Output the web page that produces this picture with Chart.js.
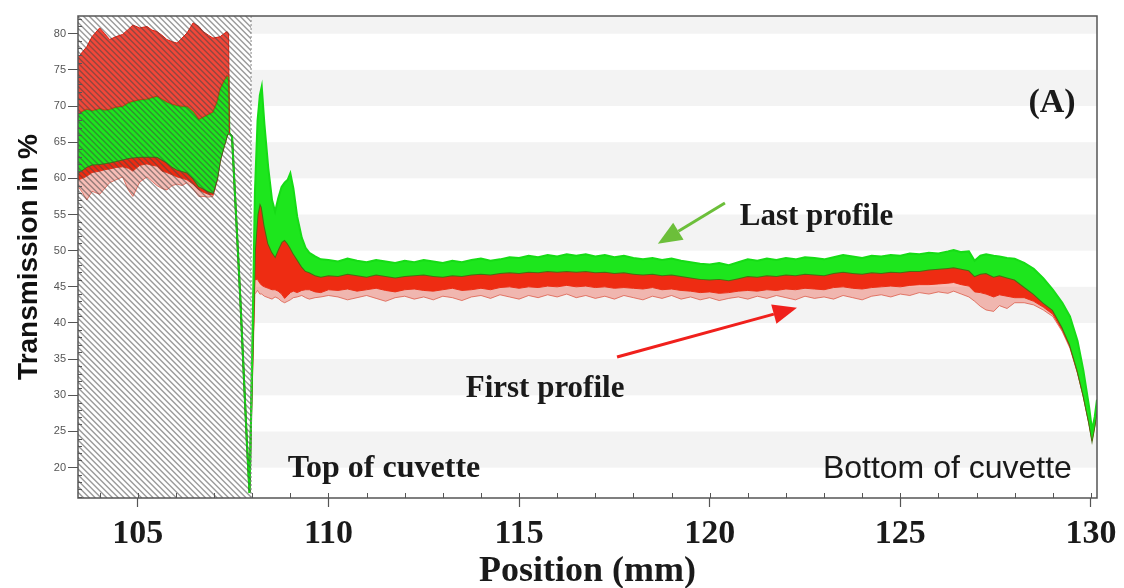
<!DOCTYPE html>
<html>
<head>
<meta charset="utf-8">
<title>Transmission profiles</title>
<script src="https://cdn.jsdelivr.net/npm/chart.js@4.4.1/dist/chart.umd.min.js"></script>
<style>
  html, body { margin: 0; padding: 0; background: #fff; }
  #profiles { display: block; }
</style>
</head>
<body>
<canvas id="profiles" width="1124" height="588"></canvas>
<script>
// scan positions along the cuvette (mm)
const position = [
  103.43, 103.55, 103.66, 103.8, 104.0, 104.13, 104.26, 104.43, 104.6, 104.75, 104.87, 105.05,
  105.24, 105.37, 105.5, 105.63, 105.76, 105.9, 106.03, 106.16, 106.29, 106.45, 106.6, 106.71,
  106.85, 106.97, 107.08, 107.16, 107.26, 107.34, 107.38, 107.4, 107.47, 107.68, 107.86, 107.93,
  108.0, 108.07, 108.14, 108.2, 108.25, 108.32, 108.42, 108.52, 108.6, 108.68, 108.77, 108.85,
  108.93, 109.0, 109.08, 109.18, 109.3, 109.4, 109.5, 109.65, 109.8, 110.0,
  110.25, 110.5, 110.75, 111.0,
  111.25, 111.5, 111.75, 112.0,
  112.25, 112.5, 112.75, 113.0,
  113.25, 113.5, 113.75, 114.0,
  114.25, 114.5, 114.75, 115.0,
  115.25, 115.5, 115.75, 116.0,
  116.25, 116.5, 116.75, 117.0,
  117.25, 117.5, 117.75, 118.0,
  118.25, 118.5, 118.75, 119.0,
  119.25, 119.5, 119.75, 120.0,
  120.25, 120.5, 120.75, 121.0,
  121.25, 121.5, 121.75, 122.0,
  122.25, 122.5, 122.75, 123.0,
  123.25, 123.5, 123.75, 124.0,
  124.25, 124.5, 124.75, 125.0,
  125.25, 125.5, 125.75, 126.0,
  126.25,
  126.4, 126.6, 126.8, 126.95, 127.1, 127.25, 127.45, 127.6, 127.8, 128.0, 128.25, 128.5,
  128.75, 129.0, 129.25, 129.45, 129.65, 129.8, 129.95, 130.03, 130.1, 130.16
];

// top edge of the last (green) profiles, % transmission
const greenUpper = [
  68.8, 69.2, 69.5, 69.3, 69.6, 69.4, 69.5, 69.8, 69.9, 70.4, 70.6, 70.8,
  70.9, 71.1, 71.3, 70.9, 70.5, 70.2, 70.0, 69.9, 69.9, 69.2, 68.1, 68.4,
  68.8, 69.1, 70.5, 72.3, 73.4, 74.1, 74.0, 66.2, 65.8, 44.2, 23.5, 16.5,
  36.0, 58.0, 68.0, 71.5, 72.7, 67.5, 61.5, 57.0, 55.4, 57.2, 58.8, 59.4,
  59.8, 60.7, 58.6, 54.7, 51.8, 50.4, 49.7, 49.2, 48.8, 48.7,
  48.5, 48.9, 48.6, 48.4,
  48.7, 48.5, 48.3, 48.6,
  48.4, 48.7, 48.5, 48.3,
  48.6, 48.4, 48.7, 48.9,
  48.6, 48.8, 49.1, 49.0,
  49.3, 49.1, 49.4, 49.2,
  49.5, 49.3, 49.5, 49.2,
  49.4, 49.1, 49.3, 49.0,
  48.8, 49.0, 48.7, 48.9,
  48.6, 48.4, 48.2, 48.1,
  48.3, 48.0, 48.4, 48.8,
  48.6, 48.9, 48.7, 49.0,
  48.8, 49.1, 49.0, 48.8,
  49.1, 49.4, 49.2, 49.0,
  49.3, 49.2, 49.4, 49.3,
  49.6, 49.5, 49.7, 49.6,
  49.9,
  50.1, 49.8, 49.9, 48.6, 49.3, 49.5, 49.3, 49.2, 49.0, 48.9, 48.3, 47.5,
  46.2, 44.6, 42.8, 40.9, 37.5, 33.5, 28.5, 25.2, 27.0, 29.4
];

// where the green profiles meet the red ones
const greenLower = [
  60.8, 61.2, 61.6, 61.9, 62.0, 62.1, 62.2, 62.4, 62.6, 62.8, 62.9, 63.0,
  63.0, 63.0, 63.0, 62.6, 62.2, 61.6, 61.2, 61.0, 60.8, 60.0, 58.9, 58.6,
  58.2, 58.0, 60.0, 62.6, 64.5, 66.0, 66.3, 66.2, 65.8, 44.2, 23.5, 16.5,
  34.0, 50.0, 55.0, 56.6, 56.0, 53.5, 51.0, 49.8, 49.2, 50.2, 51.2, 51.5,
  51.0, 50.4, 49.6, 48.8, 47.8, 47.2, 47.0, 46.6, 46.4, 46.6,
  46.5, 46.8, 46.6, 46.4,
  46.7, 46.5, 46.3, 46.5,
  46.6, 46.7, 46.5, 46.4,
  46.6, 46.5, 46.7, 46.8,
  46.7, 46.9, 47.0, 46.9,
  47.1, 47.0, 47.2, 47.1,
  47.2, 47.1, 47.2, 47.0,
  47.1, 46.9, 47.0, 46.8,
  46.7, 46.8, 46.6, 46.7,
  46.5, 46.3, 46.1, 46.0,
  46.1, 45.9, 46.2, 46.5,
  46.4, 46.6, 46.5, 46.7,
  46.6, 46.8, 46.7, 46.6,
  46.9, 47.1, 46.9, 46.8,
  47.0, 46.9, 47.1, 47.0,
  47.2, 47.2, 47.4, 47.5,
  47.6,
  47.7, 47.5, 47.3, 46.5, 46.8, 46.9, 46.4, 46.6, 46.3, 46.0, 45.0, 44.0,
  42.8, 41.8, 39.4, 37.0, 33.4, 30.1, 26.3, 23.9, 25.9, 28.1
];

// bottom of the dense red (first) profiles
const redLower = [
  59.8, 60.0, 60.3, 60.8, 61.0, 61.2, 61.3, 61.5, 61.6, 61.4, 61.0, 61.8,
  62.0, 61.8, 61.7, 61.0, 60.8, 60.5, 60.2, 60.0, 59.8, 59.2, 58.4, 58.1,
  57.8, 57.7, 59.8, 62.5, 64.4, 65.9, 66.2, 66.2, 65.8, 44.2, 23.5, 16.5,
  32.0, 46.0, 46.0, 45.5, 45.2, 45.0, 44.8, 44.6, 44.6, 44.4, 44.0, 43.4,
  43.8, 44.2, 44.4, 44.2, 44.5, 44.6, 44.6, 44.3, 44.2, 44.6,
  44.5, 44.7, 44.4, 44.6,
  44.8, 44.5, 44.3, 44.6,
  44.7, 44.5, 44.4, 44.6,
  44.8, 44.5, 44.6, 44.8,
  44.6, 44.9, 45.0, 44.8,
  45.0, 44.9, 45.1, 45.0,
  45.2, 45.0, 45.1, 44.9,
  45.0, 44.8, 44.9, 44.8,
  44.7, 44.9, 44.6, 44.7,
  44.5, 44.4, 44.2, 44.3,
  44.1, 44.2, 44.4, 44.5,
  44.4, 44.6, 44.5, 44.7,
  44.6, 44.8, 44.7, 44.6,
  44.9, 45.0, 44.8, 44.7,
  44.9, 45.0, 45.1, 45.0,
  45.2, 45.3, 45.3, 45.4,
  45.5,
  45.6, 45.3, 45.1, 44.3, 44.2, 44.0, 43.6, 43.9, 43.7, 43.5, 43.5, 43.0,
  42.2, 41.2, 39.0, 36.7, 33.1, 29.9, 26.1, 23.8, 25.8, 28.0
];

// lowest stray red traces
const redTrace = [
  58.9, 58.0, 57.0, 58.2, 57.8, 58.6, 59.4, 59.8, 60.2, 58.4, 57.5, 59.5,
  60.2, 59.6, 59.0, 58.6, 58.4, 59.0, 59.2, 59.0, 59.4, 58.5, 57.5, 57.5,
  57.4, 57.5, 59.6, 62.4, 64.3, 65.8, 66.1, 66.2, 65.8, 44.2, 23.5, 16.5,
  31.0, 44.0, 44.5, 44.0, 44.0, 43.7, 43.5, 43.3, 43.6, 43.4, 43.0, 42.8,
  43.0, 43.2, 43.5, 43.6, 43.8, 43.5, 43.3, 43.5, 43.6, 43.8,
  43.6, 43.2, 43.5, 43.8,
  43.4, 43.0, 43.5, 43.7,
  43.3, 43.6, 43.2, 43.7,
  43.5, 43.1, 43.6, 43.8,
  43.4, 43.9, 43.6, 43.3,
  43.8, 43.5, 43.9, 43.6,
  44.0, 43.5, 43.8, 43.4,
  43.7, 43.3, 43.8, 43.5,
  43.2, 43.7, 43.4, 43.8,
  43.3, 43.6, 43.2, 43.5,
  43.1, 43.4, 43.6, 43.3,
  43.7, 43.4, 43.8, 43.5,
  43.2, 43.7, 43.4, 43.6,
  43.3, 43.8, 43.5, 43.2,
  43.7, 43.9, 43.6, 44.0,
  43.8, 44.2, 44.0, 44.3,
  44.1,
  44.4, 44.0, 43.6, 43.0, 42.3, 41.8, 41.6, 42.4, 42.0, 42.8, 42.8, 42.5,
  41.8, 40.9, 38.8, 36.5, 33.0, 29.8, 26.0, 23.7, 25.7, 27.9
];

// upper red envelope above the meniscus zone
const meniscusPosition = [
  103.43, 103.55, 103.66, 103.8, 104.0, 104.13, 104.26, 104.43, 104.6, 104.75, 104.87, 105.05,
  105.24, 105.37, 105.5, 105.63, 105.76, 105.9, 106.03, 106.16, 106.29, 106.45, 106.6, 106.71,
  106.85, 106.97, 107.08, 107.16, 107.26, 107.34, 107.38, 107.4
];
const redUpper = [
  76.7, 77.5, 78.2, 79.6, 80.8, 80.0, 79.2, 79.6, 79.9, 80.6, 81.2, 80.8,
  81.0, 80.5, 80.3, 79.8, 79.2, 78.9, 78.7, 79.4, 80.1, 81.5, 81.0, 80.3,
  79.8, 79.4, 79.5, 79.6, 80.0, 80.3, 80.0, 66.2
];

const xMajorTicks = [105, 110, 115, 120, 125, 130];
const xMinorTicks = [104, 105, 106, 107, 108, 109, 110, 111, 112, 113, 114, 115, 116, 117,
  118, 119, 120, 121, 122, 123, 124, 125, 126, 127, 128, 129, 130];
const yMajorTicks = [20, 25, 30, 35, 40, 45, 50, 55, 60, 65, 70, 75, 80];
const yMinorTicks = [16, 17, 18, 19, 20, 21, 22, 23, 24, 25, 26, 27, 28, 29, 30, 31, 32, 33,
  34, 35, 36, 37, 38, 39, 40, 41, 42, 43, 44, 45, 46, 47, 48, 49, 50, 51, 52, 53, 54, 55, 56,
  57, 58, 59, 60, 61, 62, 63, 64, 65, 66, 67, 68, 69, 70, 71, 72, 73, 74, 75, 76, 77, 78, 79,
  80, 81, 82];

const shadedBands = [[20, 25], [30, 35], [40, 45], [50, 55], [60, 65], [70, 75], [80, 85]];
const meniscusEnd = 107.97;

const notes = [
  { text: '(A)', x: 128.98, y: 69.2, align: 'center', font: 'bold 34px "Liberation Serif"' },
  { text: 'Last profile', x: 120.79, y: 53.6, align: 'left', font: 'bold 31px "Liberation Serif"' },
  { text: 'First profile', x: 113.6, y: 29.7, align: 'left', font: 'bold 31px "Liberation Serif"' },
  { text: 'Top of cuvette', x: 108.93, y: 18.75, align: 'left', font: 'bold 32px "Liberation Serif"' },
  { text: 'Bottom of cuvette', x: 122.97, y: 18.6, align: 'left', font: '32px "Liberation Sans"' }
];
const arrows = [
  { from: [120.4, 56.6], to: [118.64, 50.97], color: '#6cbf3a' },
  { from: [117.57, 35.3], to: [122.29, 42.1], color: '#f0201c' }
];

const toPoints = (xs, ys) => xs.map((x, i) => ({ x: x, y: ys[i] }));

function drawArrow(ctx, x0, y0, x1, y1, color) {
  const ang = Math.atan2(y1 - y0, x1 - x0);
  const head = 24, half = 10;
  const bx = x1 - head * Math.cos(ang);
  const by = y1 - head * Math.sin(ang);
  ctx.strokeStyle = color;
  ctx.fillStyle = color;
  ctx.lineWidth = 3;
  ctx.beginPath();
  ctx.moveTo(x0, y0);
  ctx.lineTo(bx, by);
  ctx.stroke();
  ctx.beginPath();
  ctx.moveTo(x1, y1);
  ctx.lineTo(bx + half * Math.sin(ang), by - half * Math.cos(ang));
  ctx.lineTo(bx - half * Math.sin(ang), by + half * Math.cos(ang));
  ctx.closePath();
  ctx.fill();
}

const decor = {
  id: 'decor',
  beforeDatasetsDraw(chart) {
    const { ctx, chartArea: a, scales: { x, y } } = chart;
    ctx.save();
    ctx.fillStyle = '#f3f3f3';
    shadedBands.forEach(([lo, hi]) => {
      const top = Math.max(y.getPixelForValue(hi), a.top);
      const bottom = Math.min(y.getPixelForValue(lo), a.bottom);
      if (bottom > top) ctx.fillRect(a.left, top, a.right - a.left, bottom - top);
    });
    ctx.fillStyle = '#ffffff';
    ctx.fillRect(a.left, a.top, x.getPixelForValue(meniscusEnd) - a.left, a.bottom - a.top);
    ctx.restore();
  },
  afterDatasetsDraw(chart) {
    // hatching over the meniscus zone
    const { ctx, chartArea: a, scales: { x } } = chart;
    const x1 = x.getPixelForValue(meniscusEnd);
    const h = a.bottom - a.top;
    ctx.save();
    ctx.beginPath();
    ctx.rect(a.left, a.top, x1 - a.left, h);
    ctx.clip();
    ctx.strokeStyle = 'rgba(70,70,70,0.55)';
    ctx.lineWidth = 1.4;
    for (let sx = a.left - h; sx < x1; sx += 5.8) {
      ctx.beginPath();
      ctx.moveTo(sx, a.top);
      ctx.lineTo(sx + h, a.bottom);
      ctx.stroke();
    }
    ctx.restore();
    ctx.save();
    ctx.strokeStyle = '#8a8a8a';
    ctx.lineWidth = 1;
    ctx.setLineDash([2, 2]);
    ctx.beginPath();
    ctx.moveTo(x1, a.top);
    ctx.lineTo(x1, a.bottom);
    ctx.stroke();
    ctx.restore();
  },
  afterDraw(chart) {
    const { ctx, chartArea: a, scales: { x, y } } = chart;
    ctx.save();
    // inner tick marks
    ctx.strokeStyle = '#555';
    ctx.lineWidth = 1;
    ctx.beginPath();
    yMinorTicks.forEach(v => {
      if (yMajorTicks.includes(v)) return;
      const py = Math.round(y.getPixelForValue(v)) + 0.5;
      ctx.moveTo(a.left, py);
      ctx.lineTo(a.left + 4, py);
    });
    xMinorTicks.forEach(v => {
      const px = Math.round(x.getPixelForValue(v)) + 0.5;
      ctx.moveTo(px, a.bottom);
      ctx.lineTo(px, a.bottom - 5);
    });
    ctx.stroke();
    // frame
    ctx.strokeStyle = '#555';
    ctx.lineWidth = 1.5;
    ctx.strokeRect(a.left, a.top, a.right - a.left, a.bottom - a.top);
    // arrows and labels
    arrows.forEach(ar => {
      drawArrow(ctx, x.getPixelForValue(ar.from[0]), y.getPixelForValue(ar.from[1]),
        x.getPixelForValue(ar.to[0]), y.getPixelForValue(ar.to[1]), ar.color);
    });
    ctx.fillStyle = '#1a1a1a';
    ctx.textBaseline = 'alphabetic';
    notes.forEach(n => {
      ctx.font = n.font;
      ctx.textAlign = n.align;
      ctx.fillText(n.text, x.getPixelForValue(n.x), y.getPixelForValue(n.y));
    });
    ctx.restore();
  }
};

const ctx = document.getElementById('profiles').getContext('2d');
new Chart(ctx, {
  type: 'line',
  data: {
    datasets: [
      {
        label: 'upper red',
        data: toPoints(meniscusPosition, redUpper),
        borderColor: '#e81c0c',
        borderWidth: 1,
        backgroundColor: 'rgba(238,30,14,0.82)',
        fill: '+1'
      },
      {
        label: 'last profiles',
        data: toPoints(position, greenUpper),
        borderColor: '#16dc16',
        borderWidth: 2,
        backgroundColor: '#1de61d',
        fill: '+1'
      },
      {
        label: 'green/red edge',
        data: toPoints(position, greenLower),
        borderColor: '#4a6e12',
        borderWidth: 2,
        backgroundColor: '#ee2c12',
        fill: '+1'
      },
      {
        label: 'first profiles',
        data: toPoints(position, redLower),
        borderColor: '#e8321a',
        borderWidth: 1,
        backgroundColor: 'rgba(236,70,50,0.35)',
        fill: '+1'
      },
      {
        label: 'stray traces',
        data: toPoints(position, redTrace),
        borderColor: 'rgba(215,80,60,0.7)',
        borderWidth: 1,
        fill: false
      }
    ]
  },
  options: {
    responsive: false,
    animation: false,
    devicePixelRatio: 1,
    layout: { padding: { top: 16, right: 27, left: 0, bottom: 0 } },
    plugins: { legend: { display: false }, tooltip: { enabled: false } },
    elements: { point: { radius: 0 }, line: { tension: 0 } },
    scales: {
      x: {
        type: 'linear',
        min: 103.43,
        max: 130.16,
        afterBuildTicks: s => { s.ticks = xMinorTicks.map(v => ({ value: v })); },
        afterFit: s => { s.height = 90; },
        ticks: {
          autoSkip: false,
          maxRotation: 0,
          padding: 7,
          color: '#1a1a1a',
          font: { family: 'Liberation Serif', size: 34, weight: 'bold' },
          callback: v => xMajorTicks.includes(v) ? String(v) : ''
        },
        grid: {
          drawOnChartArea: false,
          tickLength: 9,
          tickWidth: 1.2,
          tickColor: c => xMajorTicks.includes(c.tick.value) ? '#555' : 'rgba(0,0,0,0)'
        },
        border: { display: false },
        title: {
          display: true,
          text: 'Position (mm)',
          color: '#1a1a1a',
          font: { family: 'Liberation Serif', size: 36, weight: 'bold', lineHeight: 0.9 },
          padding: { top: 0, bottom: 0 }
        }
      },
      y: {
        min: 15.8,
        max: 82.45,
        afterBuildTicks: s => { s.ticks = yMinorTicks.map(v => ({ value: v })); },
        afterFit: s => { s.width = 78; },
        ticks: {
          autoSkip: false,
          padding: 2,
          color: '#555',
          font: { family: 'Liberation Sans', size: 11 },
          callback: v => yMajorTicks.includes(v) ? String(v) : ''
        },
        grid: {
          drawOnChartArea: false,
          tickLength: 10,
          tickColor: c => yMajorTicks.includes(c.tick.value) ? '#555' : 'rgba(0,0,0,0)'
        },
        border: { display: false },
        title: {
          display: true,
          text: 'Transmission in %',
          color: '#111',
          font: { family: 'Liberation Sans', size: 28, weight: 'bold' },
          padding: { top: 12, bottom: 0 }
        }
      }
    }
  },
  plugins: [decor]
});
</script>
</body>
</html>
